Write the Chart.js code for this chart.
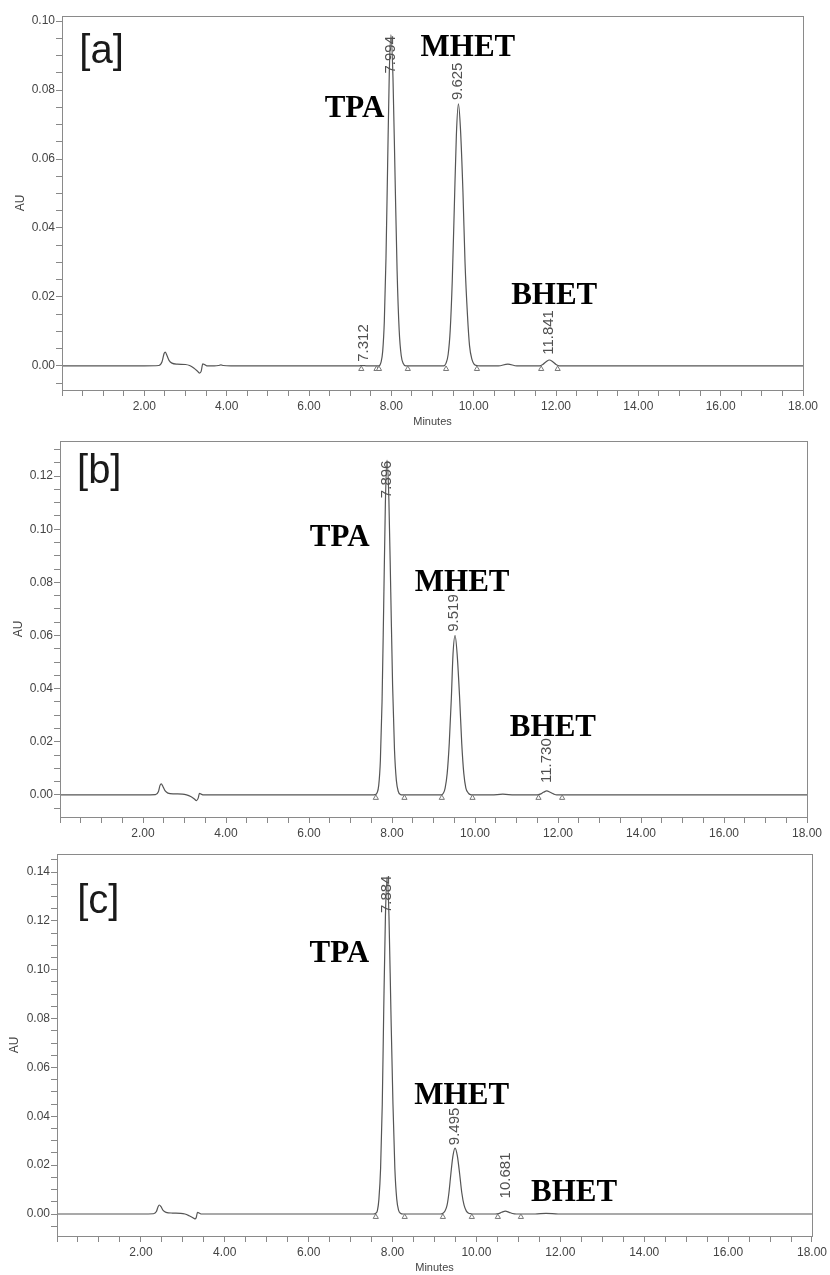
<!DOCTYPE html>
<html>
<head>
<meta charset="utf-8">
<script src="https://cdn.jsdelivr.net/npm/chart.js@4.4.1/dist/chart.umd.min.js"></script>
<style>
  html, body { margin: 0; padding: 0; background: #fff; }
  #wrap { position: relative; width: 830px; height: 1275px; overflow: hidden; }
  canvas { position: absolute; left: 0; }
</style>
</head>
<body>
<div id="wrap">
  <canvas id="chartA" width="830" height="429" style="top:0px"></canvas>
  <canvas id="chartB" width="830" height="411" style="top:429px"></canvas>
  <canvas id="chartC" width="830" height="435" style="top:840px"></canvas>
</div>
<script>
// chromatogram [a] : time (min) / absorbance (AU)
const timeA = [0, 2.0, 2.35, 2.43, 2.48, 2.51, 2.55, 2.6, 2.67, 2.8, 3.0, 3.1, 3.2, 3.28, 3.34, 3.38, 3.42, 3.46, 3.52, 3.7, 3.8, 3.86, 3.92, 4.1,
  7.2, 7.31, 7.4, 7.7, 7.75, 7.79, 7.83, 7.87, 7.91, 7.95, 7.99, 8.04, 8.09, 8.14, 8.19, 8.24, 8.29, 8.35,
  9.0, 9.27, 9.33, 9.38, 9.43, 9.48, 9.53, 9.58, 9.63, 9.68, 9.74, 9.79, 9.85, 9.90, 9.96, 10.01, 10.07, 10.15,
  10.6, 10.83, 11.05, 11.6, 11.68, 11.76, 11.84, 11.92, 12.0, 12.08, 13.0, 18.0];
const auA = [0, 0, 0.0001, 0.0012, 0.0036, 0.0040, 0.0030, 0.0016, 0.0008, 0.0005, 0.0004, 0.0001, -0.0006, -0.0014, -0.0021, -0.0016, 0.0006, 0.0004, 0, 0, 0.0001, 0.0003, 0.0001, 0,
  0, 0.0001, 0, 0, 0.0011, 0.0042, 0.0130, 0.0312, 0.0583, 0.0847, 0.0960, 0.0836, 0.0552, 0.0276, 0.0105, 0.0030, 0.0007, 0,
  0, 0, 0.0008, 0.0033, 0.0103, 0.0247, 0.0461, 0.0670, 0.0760, 0.0686, 0.0503, 0.0300, 0.0146, 0.0058, 0.0018, 0.0005, 0.0001, 0,
  0, 0.0005, 0, 0, 0.0004, 0.0012, 0.0017, 0.0012, 0.0004, 0, 0, 0];
const marksA = [7.27, 7.64, 7.70, 8.40, 9.33, 10.08, 11.64, 12.04];

// chromatogram [b]
const timeB = [0, 2.0, 2.3, 2.37, 2.41, 2.44, 2.48, 2.53, 2.6, 2.75, 2.95, 3.05, 3.15, 3.23, 3.29, 3.33, 3.36, 3.40, 3.46, 3.7,
  7.53, 7.59, 7.64, 7.68, 7.72, 7.76, 7.80, 7.84, 7.88, 7.925, 7.97, 8.015, 8.06, 8.105, 8.15, 8.20, 8.26,
  9.1, 9.18, 9.24, 9.28, 9.33, 9.38, 9.43, 9.47, 9.52, 9.57, 9.63, 9.68, 9.73, 9.78, 9.84, 9.89, 9.95,
  10.4, 10.67, 10.95, 11.5, 11.57, 11.65, 11.73, 11.81, 11.89, 11.97, 13.0, 18.0];
const auB = [0, 0, 0.0001, 0.0012, 0.0036, 0.0042, 0.0032, 0.0016, 0.0007, 0.0004, 0.0003, 0, -0.0006, -0.0014, -0.0021, -0.0012, 0.0006, 0.0003, 0, 0,
  0, 0.0001, 0.0008, 0.0036, 0.0130, 0.0350, 0.0713, 0.1094, 0.1260, 0.1111, 0.0765, 0.0410, 0.0170, 0.0055, 0.0014, 0.0002, 0,
  0, 0, 0.0007, 0.0026, 0.0081, 0.0195, 0.0364, 0.0529, 0.0600, 0.0529, 0.0364, 0.0195, 0.0081, 0.0026, 0.0007, 0.0001, 0,
  0, 0.0003, 0, 0, 0.0003, 0.0010, 0.0015, 0.0010, 0.0004, 0, 0, 0];
const marksB = [7.61, 8.30, 9.20, 9.94, 11.53, 12.10];

// chromatogram [c]
const timeC = [0, 2.0, 2.3, 2.37, 2.41, 2.44, 2.48, 2.53, 2.6, 2.75, 2.95, 3.05, 3.15, 3.23, 3.29, 3.32, 3.35, 3.39, 3.45, 3.7,
  7.54, 7.60, 7.64, 7.675, 7.715, 7.755, 7.79, 7.83, 7.87, 7.915, 7.96, 8.01, 8.055, 8.10, 8.145, 8.19, 8.25,
  9.0, 9.14, 9.20, 9.25, 9.30, 9.345, 9.39, 9.44, 9.49, 9.545, 9.60, 9.65, 9.705, 9.76, 9.815, 9.87, 9.94,
  10.45, 10.53, 10.60, 10.69, 10.78, 10.86, 10.95, 11.4, 11.66, 11.95, 13.0, 18.0];
const auC = [0, 0, 0.0001, 0.0010, 0.0030, 0.0037, 0.0030, 0.0015, 0.0007, 0.0004, 0.0003, 0, -0.0007, -0.0014, -0.0020, -0.0014, 0.0007, 0.0004, 0, 0,
  0, 0.0003, 0.0015, 0.0061, 0.0186, 0.0449, 0.0838, 0.1217, 0.1380, 0.1217, 0.0838, 0.0449, 0.0186, 0.0061, 0.0015, 0.0003, 0,
  0, 0, 0.0003, 0.0012, 0.0036, 0.0088, 0.0164, 0.0238, 0.0270, 0.0238, 0.0164, 0.0088, 0.0036, 0.0012, 0.0003, 0.0001, 0,
  0, 0.0002, 0.0007, 0.0012, 0.0007, 0.0002, 0, 0, 0.0003, 0, 0, 0];
const marksC = [7.60, 8.29, 9.20, 9.89, 10.51, 11.06];

// text annotations: [text, minutes, AU]
const namesA = [['TPA', 6.38, 0.0722], ['MHET', 8.71, 0.0899], ['BHET', 10.91, 0.0180]];
const namesB = [['TPA', 6.02, 0.0937], ['MHET', 8.55, 0.0767], ['BHET', 10.84, 0.0222]];
const namesC = [['TPA', 6.02, 0.1033], ['MHET', 8.52, 0.0450], ['BHET', 11.30, 0.0053]];
const rtA = [['7.312', 7.34, 0.0012], ['7.994', 8.00, 0.0848], ['9.625', 9.62, 0.0771], ['11.841', 11.82, 0.0032]];
const rtB = [['7.896', 7.87, 0.1117], ['9.519', 9.50, 0.0614], ['11.730', 11.73, 0.0045]];
const rtC = [['7.884', 7.86, 0.1232], ['9.495', 9.48, 0.0282], ['10.681', 10.69, 0.0064]];

const SANS = '"Liberation Sans", Arial, sans-serif';
const SERIF = '"Liberation Serif", "Times New Roman", serif';

// frame + labels drawn on top, positioned through the chart scales
const annotate = {
  id: 'annotate',
  afterDraw(chart, args, opts) {
    const { ctx, chartArea: a, scales: { x, y } } = chart;
    ctx.save();
    ctx.strokeStyle = '#8a8a8a';
    ctx.lineWidth = 1;
    ctx.strokeRect(Math.round(a.left) + 0.5, Math.round(a.top) + 0.5, Math.round(a.right - a.left), Math.round(a.bottom - a.top));

    ctx.fillStyle = '#1a1a1a';
    ctx.font = '40px ' + SANS;
    ctx.textAlign = 'left';
    ctx.textBaseline = 'alphabetic';
    ctx.fillText(opts.tag[0], x.getPixelForValue(opts.tag[1]), y.getPixelForValue(opts.tag[2]));

    ctx.fillStyle = '#000';
    ctx.font = 'bold 31px ' + SERIF;
    opts.names.forEach(n => ctx.fillText(n[0], x.getPixelForValue(n[1]), y.getPixelForValue(n[2])));

    ctx.fillStyle = '#505050';
    ctx.font = '15px ' + SANS;
    ctx.textBaseline = 'middle';
    opts.rts.forEach(r => {
      ctx.save();
      ctx.translate(x.getPixelForValue(r[1]), y.getPixelForValue(r[2]));
      ctx.rotate(-Math.PI / 2);
      ctx.fillText(r[0], 0, 0);
      ctx.restore();
    });
    ctx.restore();
  }
};

function makeChart(id, time, au, marks, markY, yMin, yMax, box, notes) {
  const trace = time.map((t, i) => ({ x: t, y: au[i] }));
  const tri = marks.map(t => ({ x: t, y: markY }));
  return new Chart(document.getElementById(id), {
    type: 'line',
    data: {
      datasets: [
        {
          data: tri,
          showLine: false,
          pointStyle: 'triangle',
          pointRadius: 3,
          pointBorderWidth: 1,
          pointBorderColor: '#777',
          pointBackgroundColor: '#fff'
        },
        {
          data: trace,
          borderColor: '#555',
          borderWidth: 1.2,
          pointRadius: 0,
          fill: false,
          cubicInterpolationMode: 'monotone'
        }
      ]
    },
    options: {
      responsive: false,
      animation: false,
      devicePixelRatio: 1,
      layout: { padding: box.padding },
      plugins: { legend: { display: false }, tooltip: { enabled: false }, annotate: notes },
      scales: {
        x: {
          type: 'linear',
          min: 0,
          max: 18,
          afterFit: s => { s.height = box.xHeight; },
          border: { display: false },
          grid: { drawOnChartArea: false, drawTicks: true, tickLength: 6, color: '#888' },
          ticks: {
            stepSize: 0.5,
            autoSkip: false,
            maxRotation: 0,
            padding: 3,
            color: '#444',
            font: { family: SANS, size: 12 },
            callback: v => {
              const k = Math.round(v * 10);
              return (k % 20 === 0 && k > 0) ? v.toFixed(2) : '';
            }
          },
          title: {
            display: box.xTitle,
            text: 'Minutes',
            color: '#444',
            font: { family: SANS, size: 11 },
            padding: { top: 0, bottom: 0 }
          }
        },
        y: {
          min: yMin,
          max: yMax,
          afterFit: s => { s.width = box.yWidth; },
          border: { display: false },
          grid: { drawOnChartArea: false, drawTicks: true, tickLength: 6, color: '#888' },
          ticks: {
            stepSize: 0.005,
            includeBounds: false,
            autoSkip: false,
            padding: 1,
            color: '#444',
            font: { family: SANS, size: 12 },
            callback: v => {
              const k = Math.round(v * 1000);
              return (k % 20 === 0) ? v.toFixed(2) : '';
            }
          },
          title: {
            display: true,
            text: 'AU',
            color: '#444',
            font: { family: SANS, size: 12 },
            padding: { top: box.auPad, bottom: 0 }
          }
        }
      }
    },
    plugins: [annotate]
  });
}

makeChart('chartA', timeA, auA, marksA, -0.0009, -0.007, 0.1015,
  { padding: { top: 16, right: 27, left: 0, bottom: 0 }, yWidth: 62, xHeight: 39, xTitle: true, auPad: 13 },
  { tag: ['[a]', 0.42, 0.0878], names: namesA, rts: rtA });

makeChart('chartB', timeB, auB, marksB, -0.0011, -0.0083, 0.1332,
  { padding: { top: 12, right: 23, left: 0, bottom: 0 }, yWidth: 60, xHeight: 23, xTitle: false, auPad: 11 },
  { tag: ['[b]', 0.41, 0.1174], names: namesB, rts: rtB });

makeChart('chartC', timeC, auC, marksC, -0.0012, -0.009, 0.1474,
  { padding: { top: 14, right: 17, left: 0, bottom: 0 }, yWidth: 57, xHeight: 39, xTitle: true, auPad: 7 },
  { tag: ['[c]', 0.48, 0.1232], names: namesC, rts: rtC });
</script>
</body>
</html>
